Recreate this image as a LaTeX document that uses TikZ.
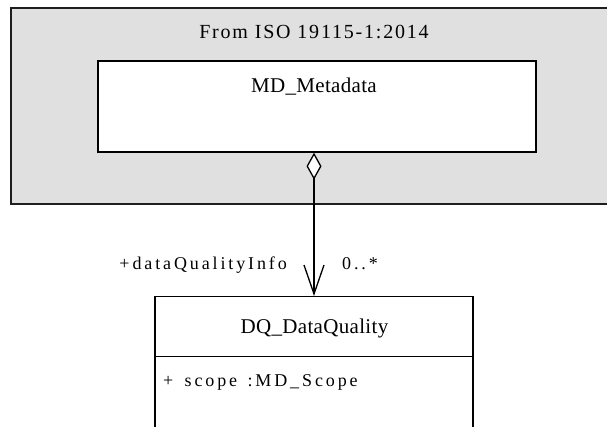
\documentclass[tikz,border=0pt]{standalone}
\usepackage{fontspec}
\setmainfont{Liberation Serif}
\newfontfamily\namefont[LetterSpace=1.5]{Liberation Serif}
\newfontfamily\pkgfont[LetterSpace=9]{Liberation Serif}
\newfontfamily\rolefont[LetterSpace=16]{Liberation Serif}
\usetikzlibrary{arrows.meta,positioning}
\definecolor{pkggray}{RGB}{224,224,224}
\definecolor{edgegray}{RGB}{30,30,30}

\tikzset{
  pkgbox/.style={draw=edgegray, line width=1.4pt, fill=pkggray},
  classbox/.style={draw=black, line width=1.4pt, fill=white, inner sep=0pt},
  sepline/.style={draw=black, line width=1.4pt},
  pkgname/.style={font=\pkgfont\fontsize{20}{24}\selectfont, inner sep=0pt},
  clsname/.style={font=\namefont\fontsize{21}{25}\selectfont, inner sep=0pt},
  role/.style={font=\rolefont\fontsize{18}{22}\selectfont, inner sep=0pt},
  aggr/.style={line width=1.3pt, {Diamond[fill=white,length=27pt,width=15pt]}-{Straight Barb[length=29pt,width=20pt]}}
}

\begin{document}
\begin{tikzpicture}[x=1pt,y=-1pt]
\useasboundingbox (0,0) rectangle (607,427);
\clip (0,0) rectangle (607,427);
\fill[white] (0,0) rectangle (607,427);

% package
\draw[pkgbox] (11,8) rectangle (630,204);
\node[pkgname, anchor=base] (pkg) at (314,39) {From ISO 19115-1:2014};

% classes
\node[classbox, minimum width=438pt, minimum height=91pt] (md) at (317,106.5) {};
\node[clsname, anchor=base] (mdname) at (314,92.7) {MD\_Metadata};
\node[classbox, minimum width=318pt, minimum height=200pt, anchor=north] (dq) at (314,296) {};
\node[clsname, anchor=base] (dqname) at (314.5,333.7) {DQ\_DataQuality};
\coordinate (dqsep) at (314,356.5);
\draw[sepline] (dq.west |- dqsep) -- (dq.east |- dqsep);
\node[role, anchor=base west] (scope) at (163,386.5) {+\hspace{4pt} scope\hspace{3pt} :MD\_Scope};

% aggregation
\draw[aggr] (md.south -| dq.north) -- (dq.north);
\node[role, anchor=base east] (rolename) at (287,269.5) {+dataQualityInfo};
\node[role, anchor=base west] (mult) at (342,269.5) {0..*};
\end{tikzpicture}
\end{document}
